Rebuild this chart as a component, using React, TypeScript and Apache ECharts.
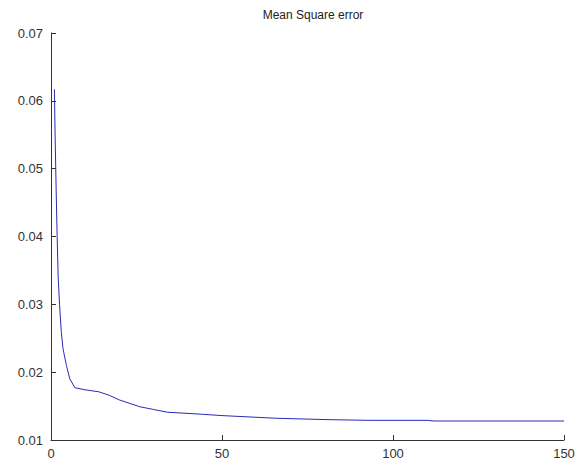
import React, { useEffect, useRef } from "react";
import * as echarts from "echarts";

const epochs = [1, 1.2, 1.5, 1.8, 2.1, 2.5, 3, 3.5, 4.5, 5.5, 7, 10, 14, 17, 20, 26, 30, 34, 44, 50, 66, 81, 93, 110, 112, 150];
const mse = [0.0617, 0.055, 0.047, 0.04, 0.034, 0.03, 0.026, 0.0235, 0.021, 0.019, 0.0177, 0.0174, 0.0171, 0.0166, 0.0159, 0.0149, 0.0145, 0.0141, 0.0138, 0.0136, 0.0132, 0.013, 0.0129, 0.0129, 0.0128, 0.0128];
const yTicks = ["0.01", "0.02", "0.03", "0.04", "0.05", "0.06", "0.07"];
const titleText = "Mean Square error";

export default function App() {
  const ref = useRef<HTMLDivElement>(null);
  useEffect(() => {
    const chart = echarts.init(ref.current!, null, { renderer: "svg" });
    const font = "Liberation Sans, Arial, sans-serif";
    chart.setOption({
      animation: false,
      backgroundColor: "#ffffff",
      title: {
        text: titleText,
        left: 308,
        textAlign: "center",
        top: 4,
        textStyle: { fontFamily: font, fontSize: 12, fontWeight: "normal", color: "#222" },
      },
      grid: { left: 51, right: 17, top: 33, bottom: 31, containLabel: false },
      xAxis: {
        type: "value",
        min: 0,
        max: 150,
        interval: 50,
        axisLine: { show: true, lineStyle: { color: "#333", width: 1 } },
        axisTick: { show: true, inside: true, length: 5, lineStyle: { color: "#333" } },
        axisLabel: { margin: 7, fontFamily: font, fontSize: 13, color: "#333" },
        splitLine: { show: false },
      },
      yAxis: {
        type: "value",
        min: 0.01,
        max: 0.07,
        interval: 0.01,
        axisLine: { show: true, lineStyle: { color: "#333", width: 1 } },
        axisTick: { show: true, inside: true, length: 5, lineStyle: { color: "#333" } },
        axisLabel: {
          margin: 8,
          fontFamily: font,
          fontSize: 13,
          color: "#333",
          formatter: (v: number) => yTicks[Math.round((v - 0.01) / 0.01)] ?? v.toFixed(2),
        },
        splitLine: { show: false },
      },
      series: [
        {
          type: "line",
          data: epochs.map((e, i) => [e, mse[i]]),
          showSymbol: false,
          symbol: "none",
          lineStyle: { color: "#2a2ab8", width: 1 },
          smooth: false,
        },
      ],
    });
    return () => chart.dispose();
  }, []);
  return <div ref={ref} style={{ position: "fixed", left: 0, top: 0, width: 581, height: 471 }} />;
}
